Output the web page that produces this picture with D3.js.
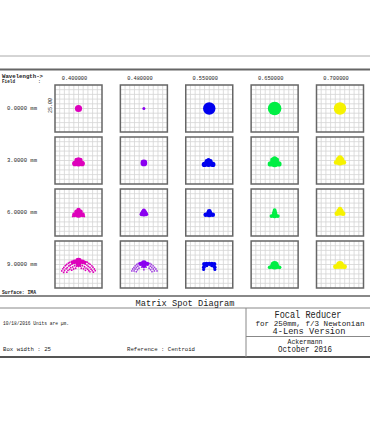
<!DOCTYPE html>
<html lang="en">
<head>
<meta charset="UTF-8">
<title>Matrix Spot Diagram</title>
<script src="https://cdnjs.cloudflare.com/ajax/libs/d3/7.8.5/d3.min.js"></script>
<style>
  body { margin: 0; background: #fff; }
  text { font-family: "Liberation Mono", "DejaVu Sans Mono", monospace; fill: #222; }
</style>
</head>
<body>
<svg width="370" height="423"></svg>
<script>
"use strict";

// wavelengths (um) across the top, field heights down the side
const wavelengths = ["0.400000", "0.480000", "0.550000", "0.650000", "0.700000"];
const fields = ["0.0000 mm", "3.0000 mm", "6.0000 mm", "9.0000 mm"];
const boxWidth = 25; // um, full width of each box
const gridDivisions = 10;

// spot blobs per field, one list per wavelength: [x, y, r] in um from box centre
const spotsField0 = [
  [[0, 0, 1.9]],
  [[0, 0, 0.8]],
  [[0, 0, 3.3]],
  [[0, 0, 3.6]],
  [[0, 0, 3.3]]
];
const spotsField3 = [
  [[0, -1.0, 2.2], [-1.9, -1.6, 1.5], [1.9, -1.6, 1.5], [-0.9, 0.2, 1.3], [0.9, 0.2, 1.3], [0, 0.6, 1.1]],
  [[0, -1.3, 1.8]],
  [[-0.4, -1.5, 2.0], [-2.6, -2.1, 1.4], [1.9, -2.1, 1.4], [-1.3, -0.4, 1.2], [0.6, -0.4, 1.2], [-0.4, 0.2, 1.1]],
  [[0, -1.2, 2.4], [-2.3, -1.8, 1.4], [2.3, -1.8, 1.4], [-1.1, 0.3, 1.3], [1.1, 0.3, 1.3], [0, 0.9, 1.4]],
  [[0, -0.5, 2.2], [-2.0, -1.0, 1.3], [2.0, -1.0, 1.3], [-1.0, 0.6, 1.2], [1.0, 0.6, 1.2], [0, 1.3, 1.5]]
];
const spotsField6 = [
  [[0, -0.8, 2.0], [-2.1, -1.2, 1.3], [2.1, -1.2, 1.3], [-1.2, 0.6, 1.0], [1.2, 0.6, 1.0], [0, 1.3, 1.2], [-3.0, -2.0, 0.6], [3.0, -2.0, 0.6]],
  [[0, -0.3, 1.8], [0, 1.0, 1.1], [-1.2, -0.9, 1.1], [1.2, -0.9, 1.1]],
  [[0, -0.8, 1.7], [-1.9, -1.2, 1.2], [1.9, -1.2, 1.2], [0, 0.6, 1.3]],
  [[0, -1.4, 1.6], [-1.7, -1.9, 1.0], [1.7, -1.9, 1.0], [0, 0.1, 1.3], [0, 1.3, 1.0]],
  [[0, 0.4, 2.0], [-1.6, -0.6, 1.3], [1.6, -0.6, 1.3], [0, 1.9, 1.2]]
];
const spotsField9 = [
  [[0, 1.8, 1.8], [-2.2, 1.4, 1.3], [2.2, 1.4, 1.3], [-3.2, 1.0, 0.9], [3.2, 1.0, 0.9], [0, 0.4, 1.5]],
  [[0, 0.6, 1.6], [-1.8, 0.3, 1.1], [1.8, 0.3, 1.1], [0, -0.6, 1.3]],
  [[0, 0.3, 1.1], [-1.4, 0.3, 1.1], [1.4, 0.3, 1.1], [-2.7, 0.2, 1.1], [2.7, 0.2, 1.1], [-1.4, -0.6, 0.9], [1.4, -0.6, 0.9],
   [-2.9, -1.4, 1.0], [2.9, -1.4, 1.0], [-3.0, -2.6, 0.8], [3.0, -2.6, 0.8]],
  [[0, -0.4, 2.3], [-2.6, -1.5, 1.0], [2.6, -1.5, 1.0], [-1.2, -1.2, 1.2], [1.2, -1.2, 1.2]],
  [[0, -0.2, 2.1], [-2.4, -1.2, 1.3], [2.4, -1.2, 1.3], [-1.3, -1.0, 1.3], [1.3, -1.0, 1.3]]
];
const spots = [spotsField0, spotsField3, spotsField6, spotsField9];

// loose rays around the 9 mm spots, [x, y] in um
const haloField9Blue400 = [
  [-3.8, 1.6], [-4.7, 1.1], [-5.4, 0.7], [-6.3, 0.0], [-7.0, -0.6], [-7.8, -1.5], [-8.3, -2.3], [-8.9, -3.4],
  [-3.5, 0.1], [-4.4, -0.4], [-5.1, -0.8], [-6.0, -1.7], [-6.6, -2.3], [-7.4, -3.2], [-7.9, -4.2],
  [-3.1, -1.3], [-4.1, -1.7], [-4.7, -2.6], [-5.6, -3.1], [-6.2, -4.1], [-2.6, -2.4], [-3.6, -3.0],
  [3.9, 1.5], [4.6, 1.2], [5.5, 0.6], [6.2, 0.1], [7.1, -0.7], [7.7, -1.4], [8.4, -2.4], [8.9, -3.3],
  [3.6, 0.2], [4.5, -0.3], [5.2, -1.0], [6.1, -1.6], [6.7, -2.5], [7.3, -3.3], [7.9, -4.1],
  [3.2, -1.2], [4.0, -1.9], [4.9, -2.5], [5.5, -3.3], [6.1, -3.9], [2.7, -2.3], [3.7, -3.1],
  [-2.0, -0.6], [-1.0, -0.9], [0, -1.0], [1.0, -0.9], [2.0, -0.6], [-1.5, -2.0], [1.5, -2.0]
];
const haloField9Blue480 = [
  [-3.0, 0.6], [-3.8, 0.0], [-4.6, -0.7], [-5.3, -1.5], [-5.9, -2.4], [-6.4, -3.4],
  [-3.2, -0.9], [-4.0, -1.6], [-4.7, -2.4], [-5.2, -3.4], [-2.6, -2.0], [-3.4, -2.8], [-4.0, -3.8],
  [3.2, 0.6], [4.0, 0.0], [4.9, -0.7], [5.7, -1.5], [6.4, -2.4], [7.0, -3.4],
  [3.4, -0.9], [4.2, -1.6], [5.0, -2.4], [5.6, -3.4], [2.8, -2.0], [3.6, -2.8], [4.3, -3.8],
  [-1.2, -1.4], [0, -1.6], [1.2, -1.4], [0, -2.8]
];
const halos = [[], [], [], [haloField9Blue400, haloField9Blue480]];

const colors = ["#dd00bb", "#8a00f0", "#0000ee", "#00ee44", "#f6f200"];
const haloColors = ["#dd00bb", "#a040e0"];

const svg = d3.select("svg");
const boxPx = 47;

const colX = d3.scalePoint().domain(wavelengths).range([55, 316.5]);
const rowY = d3.scalePoint().domain(fields).range([85, 241]);
const sx = d3.scaleLinear().domain([-boxWidth / 2, boxWidth / 2]).range([0, boxPx]);
const sy = d3.scaleLinear().domain([-boxWidth / 2, boxWidth / 2]).range([boxPx, 0]);
const rs = d3.scaleLinear().domain([0, boxWidth]).range([0, boxPx]);

function label(x, y, str, size, width, anchor) {
  const t = svg.append("text")
    .attr("x", x).attr("y", y)
    .attr("font-size", size)
    .attr("text-anchor", anchor || "start")
    .text(str);
  if (width) t.attr("textLength", width).attr("lengthAdjust", "spacingAndGlyphs");
  return t;
}

function hline(y, x1, x2, color, w) {
  svg.append("line").attr("x1", x1).attr("x2", x2).attr("y1", y).attr("y2", y)
    .attr("stroke", color).attr("stroke-width", w);
}

// frame lines
hline(56, 0, 370, "#aaa", 1);
hline(69.5, 0, 370, "#666", 2);
hline(296, 0, 370, "#888", 2);
hline(308, 0, 370, "#888", 1);
hline(357, 0, 370, "#555", 2);
svg.append("line").attr("x1", 246).attr("x2", 246).attr("y1", 308).attr("y2", 357)
  .attr("stroke", "#888").attr("stroke-width", 1);
hline(336.5, 246, 370, "#888", 1);

// header
label(2, 77.5, "Wavelength->", 4.5, 41).attr("font-weight", "bold");
label(2, 83, "Field", 4.5, 13).attr("font-weight", "bold");
label(38, 83, ":", 4.5).attr("font-weight", "bold");

wavelengths.forEach(w => {
  label(colX(w) + boxPx / 2 - 4, 80, w, 5.5, 25.5, "middle");
});
fields.forEach(f => {
  label(22, rowY(f) + boxPx / 2 + 1, f, 5.5, 30, "middle");
});

// 25.00 scale mark on the first box
svg.append("text")
  .attr("transform", `translate(${colX(wavelengths[0]) - 3},${rowY(fields[0]) + boxPx / 2 - 3}) rotate(-90)`)
  .attr("font-size", 5).attr("text-anchor", "middle")
  .text("25.00");

// boxes
const ticks = d3.range(1, gridDivisions).map(i => -boxWidth / 2 + i * boxWidth / gridDivisions);

fields.forEach((f, ri) => {
  wavelengths.forEach((w, ci) => {
    const g = svg.append("g").attr("transform", `translate(${colX(w)},${rowY(f)})`);
    g.selectAll("line.v").data(ticks).enter().append("line")
      .attr("x1", d => sx(d)).attr("x2", d => sx(d)).attr("y1", 0).attr("y2", boxPx)
      .attr("stroke", "#d4d4d4").attr("stroke-width", 0.8);
    g.selectAll("line.h").data(ticks).enter().append("line")
      .attr("y1", d => sy(d)).attr("y2", d => sy(d)).attr("x1", 0).attr("x2", boxPx)
      .attr("stroke", "#d4d4d4").attr("stroke-width", 0.8);

    const halo = halos[ri][ci] || [];
    g.selectAll("circle.h").data(halo).enter().append("circle")
      .attr("cx", d => sx(d[0])).attr("cy", d => sy(d[1])).attr("r", 0.9)
      .attr("fill", haloColors[ci]);

    g.selectAll("circle.s").data(spots[ri][ci]).enter().append("circle")
      .attr("cx", d => sx(d[0])).attr("cy", d => sy(d[1])).attr("r", d => rs(d[2]))
      .attr("fill", colors[ci]);

    g.append("rect").attr("width", boxPx).attr("height", boxPx)
      .attr("fill", "none").attr("stroke", "#666").attr("stroke-width", 1.5);
  });
});

// footer
label(2, 294, "Surface: IMA", 5.5, 34).attr("font-weight", "bold");
label(185, 306, "Matrix Spot Diagram", 9, 99, "middle");
label(3, 325, "10/18/2016  Units are \u00b5m.", 5.5, 66);
label(3, 351, "Box width  : 25", 5.5, 48);
label(127, 351, "Reference  : Centroid", 5.5, 68);

label(308, 318, "Focal Reducer", 11, 67, "middle");
label(310, 326, "for 250mm, f/3 Newtonian", 7.5, 109, "middle");
label(309, 333.5, "4-Lens Version", 8.5, 73, "middle");
label(305, 344, "Ackermann", 7.5, 35, "middle");
label(305, 352, "October 2016", 9, 54, "middle");
</script>
</body>
</html>
